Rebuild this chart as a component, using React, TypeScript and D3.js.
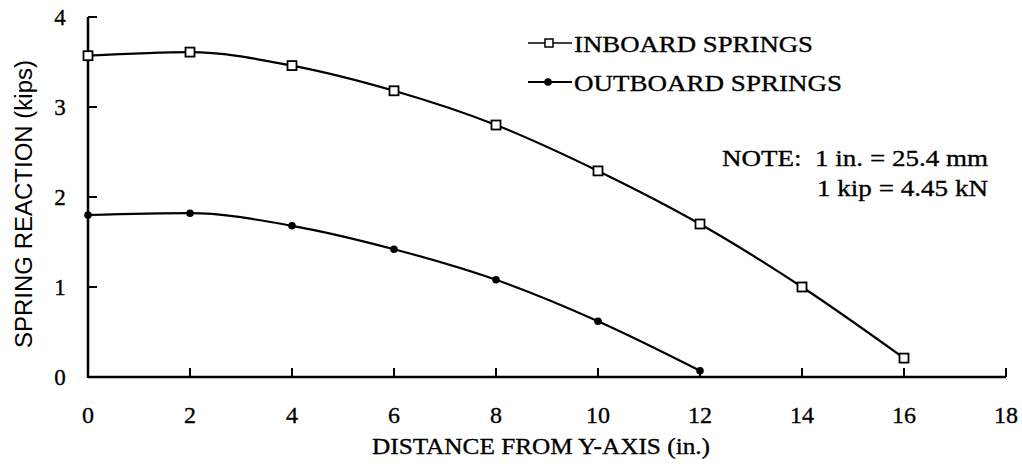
import { useEffect, useRef } from 'react'
import * as d3 from 'd3'

const distances = [0, 2, 4, 6, 8, 10, 12, 14, 16]
const inboard = [3.57, 3.61, 3.46, 3.18, 2.8, 2.29, 1.7, 1.0, 0.21]
const outboardX = [0, 2, 4, 6, 8, 10, 12]
const outboard = [1.8, 1.82, 1.68, 1.42, 1.08, 0.62, 0.07]
const xTicks = [0, 2, 4, 6, 8, 10, 12, 14, 16, 18]
const yTicks = [0, 1, 2, 3, 4]

const W = 1022
const H = 468
const serif = '"Liberation Serif", "Times New Roman", serif'
const sans = '"Liberation Sans", Arial, sans-serif'

export default function App() {
  const svgRef = useRef<SVGSVGElement>(null)

  useEffect(() => {
    if (!svgRef.current) return
    const svg = d3.select(svgRef.current)
    svg.selectAll('*').remove()

    const x = d3.scaleLinear().domain([0, 18]).range([88, 1006])
    const y = d3.scaleLinear().domain([0, 4]).range([377, 17])

    const g = svg.append('g')

    // serif text in the scan is a bit heavier, so give it a thin outline
    const txt = (sel: d3.Selection<SVGTextElement, unknown, null, undefined>) =>
      sel.attr('stroke', '#000').attr('stroke-width', 0.35)

    // axes
    g.append('line')
      .attr('x1', x(0)).attr('x2', x(0)).attr('y1', y(0) + 1).attr('y2', y(4))
      .attr('stroke', '#000').attr('stroke-width', 2.5)
    g.append('line')
      .attr('x1', x(0)).attr('x2', x(18)).attr('y1', y(0)).attr('y2', y(0))
      .attr('stroke', '#000').attr('stroke-width', 2.5)

    yTicks.forEach(t => {
      g.append('line')
        .attr('x1', x(0)).attr('x2', x(0) + 9).attr('y1', y(t)).attr('y2', y(t))
        .attr('stroke', '#000').attr('stroke-width', 2)
      g.append('text')
        .attr('x', 60).attr('y', y(t) + 8)
        .attr('text-anchor', 'middle')
        .style('font-family', serif).style('font-size', '23px')
        .call(txt)
        .text(t)
    })

    xTicks.forEach(t => {
      g.append('line')
        .attr('x1', x(t)).attr('x2', x(t)).attr('y1', y(0)).attr('y2', y(0) - 9)
        .attr('stroke', '#000').attr('stroke-width', 2)
      g.append('text')
        .attr('x', x(t)).attr('y', 423)
        .attr('text-anchor', 'middle')
        .style('font-family', serif).style('font-size', '24px')
        .call(txt)
        .text(t)
    })

    g.append('text')
      .attr('x', 372).attr('y', 454)
      .attr('textLength', 338).attr('lengthAdjust', 'spacingAndGlyphs')
      .style('font-family', serif).style('font-size', '24px')
      .call(txt)
      .text('DISTANCE FROM Y-AXIS (in.)')

    g.append('text')
      .attr('transform', 'translate(32,348) rotate(-90)')
      .attr('textLength', 288).attr('lengthAdjust', 'spacingAndGlyphs')
      .style('font-family', sans).style('font-size', '23px')
      .text('SPRING REACTION (kips)')

    const line = d3.line<[number, number]>()
      .x(d => x(d[0])).y(d => y(d[1]))
      .curve(d3.curveMonotoneX)

    const inData = distances.map((d, i) => [d, inboard[i]] as [number, number])
    const outData = outboardX.map((d, i) => [d, outboard[i]] as [number, number])

    g.append('path').attr('d', line(inData)).attr('fill', 'none')
      .attr('stroke', '#000').attr('stroke-width', 2.2)
    g.append('path').attr('d', line(outData)).attr('fill', 'none')
      .attr('stroke', '#000').attr('stroke-width', 2.2)

    inData.forEach(d => {
      g.append('rect')
        .attr('x', x(d[0]) - 4.5).attr('y', y(d[1]) - 4.5)
        .attr('width', 9).attr('height', 9)
        .attr('fill', '#fff').attr('stroke', '#000').attr('stroke-width', 1.8)
    })
    outData.forEach(d => {
      g.append('circle')
        .attr('cx', x(d[0])).attr('cy', y(d[1])).attr('r', 3.8)
        .attr('fill', '#000')
    })

    // legend
    const leg = [
      { label: 'INBOARD SPRINGS', y: 43, len: 239, kind: 'square' },
      { label: 'OUTBOARD SPRINGS', y: 82, len: 268, kind: 'dot' },
    ]
    leg.forEach(l => {
      g.append('line')
        .attr('x1', 528).attr('x2', 572).attr('y1', l.y).attr('y2', l.y)
        .attr('stroke', '#000').attr('stroke-width', l.kind === 'square' ? 1.6 : 2.2)
      if (l.kind === 'square') {
        g.append('rect').attr('x', 545).attr('y', l.y - 4).attr('width', 8).attr('height', 8)
          .attr('fill', '#fff').attr('stroke', '#000').attr('stroke-width', 1.5)
      } else {
        g.append('circle').attr('cx', 548).attr('cy', l.y).attr('r', 3.8).attr('fill', '#000')
      }
      g.append('text')
        .attr('x', 574).attr('y', l.y + 9)
        .attr('textLength', l.len).attr('lengthAdjust', 'spacingAndGlyphs')
        .style('font-family', serif).style('font-size', '24px')
        .call(txt)
        .text(l.label)
    })

    g.append('text')
      .attr('x', 722).attr('y', 166)
      .attr('textLength', 266).attr('lengthAdjust', 'spacingAndGlyphs')
      .style('font-family', serif).style('font-size', '24px')
      .style('white-space', 'pre')
      .call(txt)
      .text('NOTE:  1 in. = 25.4 mm')
    g.append('text')
      .attr('x', 817).attr('y', 196)
      .attr('textLength', 171).attr('lengthAdjust', 'spacingAndGlyphs')
      .style('font-family', serif).style('font-size', '24px')
      .call(txt)
      .text('1 kip = 4.45 kN')
  }, [])

  return (
    <svg
      ref={svgRef}
      width={W}
      height={H}
      style={{ position: 'absolute', left: 0, top: 0, background: '#fff' }}
    />
  )
}
